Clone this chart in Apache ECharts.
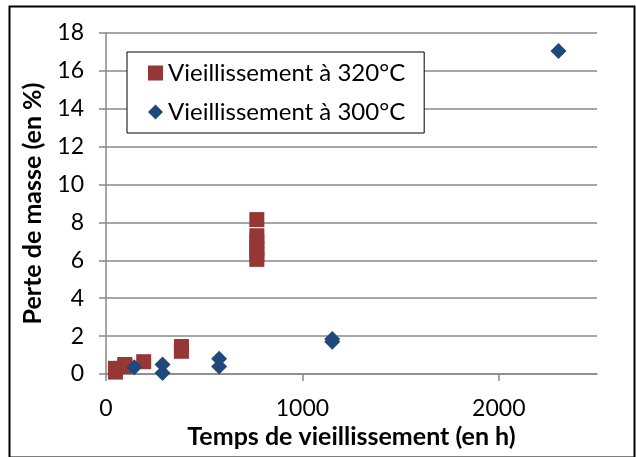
<!DOCTYPE html>
<html>
<head>
<meta charset="utf-8">
<script src="https://cdn.jsdelivr.net/npm/echarts@6/dist/echarts.min.js"></script>
<style>
html,body{margin:0;padding:0;background:#fff;}
#c{width:636px;height:457px;}
</style>
</head>
<body>
<div id="c"></div>
<script>
// Data
const seriesNames = ['Vieillissement à 320°C', 'Vieillissement à 300°C'];
const hours320 = [48, 48, 96, 96, 192, 384, 384, 768, 768, 768, 768, 768, 768];
const loss320  = [0.1, 0.3, 0.4, 0.5, 0.65, 1.2, 1.45, 8.15, 7.3, 7.0, 6.6, 6.3, 6.05];
const hours300 = [144, 288, 288, 576, 576, 1152, 1152, 2304];
const loss300  = [0.35, 0.05, 0.5, 0.4, 0.8, 1.7, 1.85, 17.05];
const xTicks = [0, 1000, 2000];
const xTitle = 'Temps de vieillissement (en h)';
const yTitle = 'Perte de masse (en %)';

const FONT = 'Lato';
const chart = echarts.init(document.getElementById('c'), null, {renderer: 'canvas'});
const grid = '#888888';
chart.setOption({
  animation: false,
  backgroundColor: '#ffffff',
  textStyle: {fontFamily: FONT},
  grid: {left: 106, right: 39, top: 33, bottom: 83, containLabel: false},
  legend: {
    orient: 'vertical',
    left: 127, top: 52,
    padding: [7, 19, 7, 21],
    itemGap: 11,
    itemWidth: 15, itemHeight: 15,
    backgroundColor: '#ffffff',
    borderColor: '#000000', borderWidth: 1,
    textStyle: {fontFamily: FONT, fontSize: 24, color: '#000', lineHeight: 28, padding: [0,0,0,0]},
    data: seriesNames
  },
  xAxis: {
    type: 'value', min: 0, max: 2500, interval: 1000,
    name: xTitle, nameLocation: 'middle', nameGap: 50,
    nameTextStyle: {fontFamily: FONT, fontSize: 25, fontWeight: 'bold', color: '#000'},
    axisLine: {show: true, onZero: false, lineStyle: {color: grid, width: 1.5}},
    axisTick: {show: true, length: 7, inside: false, customValues: xTicks, lineStyle: {color: grid, width: 1.5}},
    axisLabel: {fontFamily: FONT, fontSize: 23, color: '#000', margin: 23, customValues: xTicks,
                formatter: v => String(v)},
    splitLine: {show: false}
  },
  yAxis: {
    type: 'value', min: 0, max: 18, interval: 2,
    name: yTitle, nameLocation: 'middle', nameGap: 61,
    nameTextStyle: {fontFamily: FONT, fontSize: 25, fontWeight: 'bold', color: '#000'},
    axisLine: {show: true, lineStyle: {color: grid, width: 1.5}},
    axisTick: {show: true, length: 7, lineStyle: {color: grid, width: 1.5}},
    axisLabel: {fontFamily: FONT, fontSize: 23, color: '#000', margin: 22, formatter: v => String(v)},
    splitLine: {show: true, lineStyle: {color: grid, width: 1.5}}
  },
  series: [
    {
      name: seriesNames[0], type: 'scatter', symbol: 'rect', symbolSize: 15,
      itemStyle: {color: '#953735', opacity: 1},
      data: hours320.map((h, i) => [h, loss320[i]])
    },
    {
      name: seriesNames[1], type: 'scatter', symbol: 'diamond', symbolSize: 16,
      itemStyle: {color: '#1f497d', opacity: 1},
      data: hours300.map((h, i) => [h, loss300[i]])
    }
  ],
  graphic: [{
    type: 'rect', left: 7, top: 4, silent: true,
    shape: {width: 625, height: 451},
    style: {fill: 'none', stroke: '#000', lineWidth: 2}
  }]
});
</script>
</body>
</html>
